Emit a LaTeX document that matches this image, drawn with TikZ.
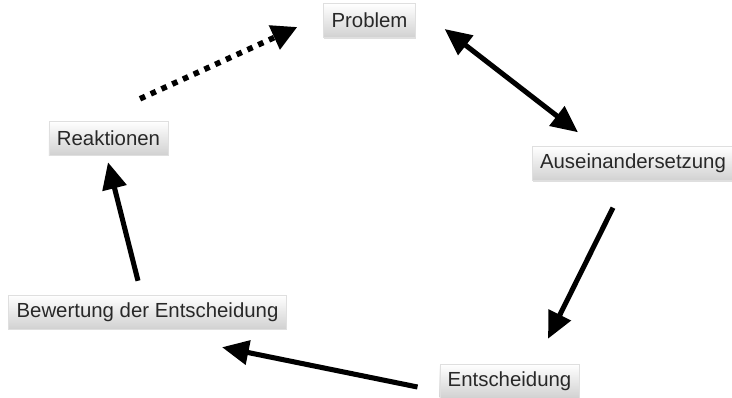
\documentclass[tikz,border=0pt]{standalone}
\usepackage{fontspec}
\setmainfont{Liberation Sans}
\usetikzlibrary{arrows.meta,shadows}
\definecolor{boxtext}{RGB}{40,40,40}

\begin{document}
\begin{tikzpicture}[x=0.025cm, y=-0.025cm,
	stage/.style={rectangle, draw=gray!25, line width=0.3pt, top color=white, bottom color=gray!36,
		drop shadow={opacity=0.25, shadow xshift=0.6pt, shadow yshift=-0.8pt},
		minimum height=0.85cm, inner xsep=0.2cm, text=boxtext,
		font=\fontsize{14.5}{16}\selectfont},
	flow/.style={line width=3.6pt, -{Triangle[length=19pt,width=17pt]}},
	hint/.style={line width=4pt, dash pattern=on 4pt off 4.4pt, -{Triangle[length=18pt,width=18pt]}}]
	\useasboundingbox (0,0) rectangle (732,397);
	% Stages:
	\node[stage] (prob) at (369.5, 20.5) {Problem};
	\node[stage] (aus) at (633, 163.5) {Auseinandersetzung};
	\node[stage] (ent) at (509.5, 381) {Entscheidung};
	\node[stage] (bew) at (147.5, 312) {Bewertung der Entscheidung};
	\node[stage] (rea) at (108.5, 138) {Reaktionen};
	% Arrows between stages:
	\draw[flow, {Triangle[length=19pt,width=17pt]}-{Triangle[length=19pt,width=17pt]}]
		([shift={(29,8.5)}]prob.east) -- ([shift={(-55,-14)}]aus.north);
	\draw[flow] ([shift={(-20,27)}]aus.south) -- ([shift={(38.5,-25)}]ent.north);
	\draw[flow] ([shift={(-22,6)}]ent.west) -- ([shift={(74.5,18)}]bew.south);
	\draw[flow] ([shift={(-9.5,-14)}]bew.north) -- ([shift={(-0.5,7)}]rea.south);
	\draw[hint] ([shift={(31.5,-22)}]rea.north) -- ([shift={(-26,6.5)}]prob.west);
\end{tikzpicture}
\end{document}
